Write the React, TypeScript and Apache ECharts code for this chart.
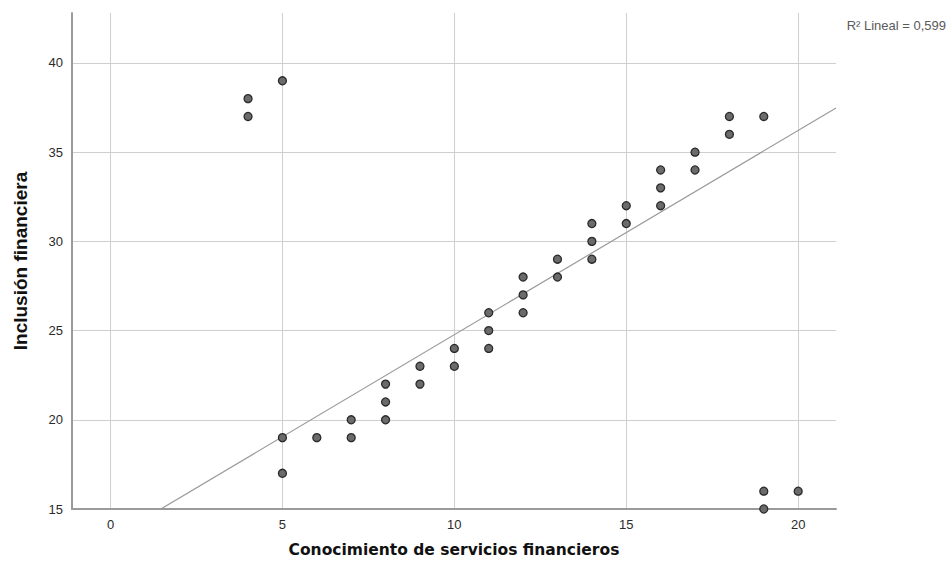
import React, { useEffect, useRef } from "react";
import * as echarts from "echarts";

// Observed points: [Conocimiento de servicios financieros, Inclusión financiera]
const xValues = [4, 4, 5, 5, 5, 6, 7, 7, 8, 8, 8, 9, 9, 10, 10, 11, 11, 11, 12, 12, 12, 13, 13, 14, 14, 14, 15, 15, 16, 16, 16, 17, 17, 18, 18, 19, 19, 19, 20];
const yValues = [38, 37, 39, 19, 17, 19, 20, 19, 22, 21, 20, 23, 22, 24, 23, 26, 25, 24, 28, 27, 26, 29, 28, 31, 30, 29, 32, 31, 34, 33, 32, 35, 34, 37, 36, 37, 16, 15, 16];

// Fit line
const fitIntercept = 13.324;
const fitSlope = 1.1447;
const rSquaredLabel = "R² Lineal = 0,599";

const xMin = -1.12;
const xMax = 21.1;
const yMin = 15;
const yMax = 42.8;
const xTickLabels = [0, 5, 10, 15, 20];
const yTickLabels = [15, 20, 25, 30, 35, 40];

const FONT = "'Liberation Sans', Arial, sans-serif";
const WIDE_FONT = "'DejaVu Sans', Verdana, sans-serif";

export default function App() {
  const ref = useRef<HTMLDivElement>(null);
  useEffect(() => {
    if (!ref.current) return;
    const chart = echarts.init(ref.current, undefined, { renderer: "svg" });
    const points = xValues.map((x, i) => [x, yValues[i]]);
    const fitLine = [xMin, xMax].map((x) => [x, fitIntercept + fitSlope * x]);
    chart.setOption({
      animation: false,
      backgroundColor: "#ffffff",
      textStyle: { fontFamily: FONT },
      grid: { left: 72, right: 114, top: 13, bottom: 58, containLabel: false },
      xAxis: {
        type: "value",
        min: xMin,
        max: xMax,
        name: "Conocimiento de servicios financieros",
        nameLocation: "middle",
        nameGap: 33,
        nameTextStyle: { fontSize: 15.5, fontWeight: "bold", color: "#111", fontFamily: WIDE_FONT },
        axisLine: { show: true, onZero: false, lineStyle: { color: "#9a9a9a", width: 2 } },
        axisTick: { show: false },
        axisLabel: {
          color: "#2a2a2a",
          fontSize: 13,
          margin: 9,
          fontFamily: FONT,
          customValues: xTickLabels,
        },
        splitLine: { show: true, showMinLine: false, showMaxLine: false, lineStyle: { color: "#cfcfcf", width: 1 } },
      },
      yAxis: {
        type: "value",
        min: yMin,
        max: yMax,
        name: "Inclusión financiera",
        nameLocation: "middle",
        nameGap: 42,
        nameTextStyle: { fontSize: 19, fontWeight: "bold", color: "#111", fontFamily: FONT },
        axisLine: { show: true, onZero: false, lineStyle: { color: "#9a9a9a", width: 2 } },
        axisTick: { show: false },
        axisLabel: {
          color: "#2a2a2a",
          fontSize: 13,
          margin: 9,
          fontFamily: FONT,
          customValues: yTickLabels,
        },
        splitLine: { show: true, showMinLine: false, showMaxLine: false, lineStyle: { color: "#cfcfcf", width: 1 } },
      },
      graphic: [
        {
          type: "text",
          right: 4,
          top: 19,
          style: { text: rSquaredLabel, fontSize: 13, fill: "#5a5a5a", fontFamily: FONT },
        },
      ],
      series: [
        {
          type: "line",
          data: fitLine,
          showSymbol: false,
          symbol: "none",
          lineStyle: { color: "#9a9a9a", width: 1.2 },
          clip: true,
          silent: true,
          z: 1,
        },
        {
          type: "scatter",
          data: points,
          symbol: "circle",
          symbolSize: 8,
          clip: true,
          itemStyle: { color: "#6b6b6b", borderColor: "#2a2a2a", borderWidth: 1.3, opacity: 1 },
          z: 3,
        },
      ],
    });
    return () => chart.dispose();
  }, []);
  return <div ref={ref} style={{ width: 950, height: 567, position: "absolute", left: 0, top: 0 }} />;
}
